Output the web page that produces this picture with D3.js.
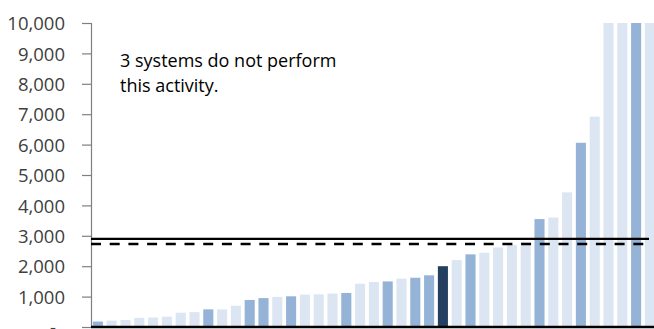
<!DOCTYPE html>
<html>
<head>
<meta charset="utf-8">
<script src="https://cdn.jsdelivr.net/npm/d3@7/dist/d3.min.js"></script>
<style>
  html, body { margin: 0; padding: 0; background: #fff; }
  svg { display: block; font-family: "Open Sans", "Noto Sans", sans-serif; }
</style>
</head>
<body>
<svg id="chart" width="654" height="329"></svg>
<script>
// Systems sorted ascending; group: 0 = other, 1 = highlighted peer, 2 = selected system
const systems = d3.range(1, 42).map(i => "S" + i);
const values = [180, 210, 230, 300, 310, 340, 470, 490, 580, 580,
                700, 890, 950, 990, 1010, 1065, 1075, 1100, 1120, 1425,
                1480, 1500, 1590, 1620, 1700, 2000, 2200, 2390, 2445, 2620,
                2700, 2790, 3550, 3600, 4430, 6060, 6920, 10000, 10000, 10000, 10000];
const groups = [1, 0, 0, 0, 0, 0, 0, 0, 1, 0,
                0, 1, 1, 0, 1, 0, 0, 0, 1, 0,
                0, 1, 0, 1, 1, 2, 0, 1, 0, 0,
                0, 0, 1, 0, 0, 1, 0, 0, 0, 1, 0];
const yTicks = [0, 1000, 2000, 3000, 4000, 5000, 6000, 7000, 8000, 9000, 10000];
const referenceLines = [
  { name: "Median", value: 2900, dashed: false },
  { name: "Average", value: 2730, dashed: true }
];
const noteLines = ["3 systems do not perform", "this activity."];

const groupColors = ["#dce6f2", "#95b3d7", "#243f60"];

const svg = d3.select("#chart");
const x0 = 91, x1 = 656.8, yTop = 23, yBottom = 327;

const x = d3.scaleBand()
  .domain(systems)
  .range([x0, x1])
  .paddingInner(0.27)
  .paddingOuter(0.135);

const y = d3.scaleLinear()
  .domain([0, 10000])
  .range([yBottom, yTop])
  .clamp(true);

// Bars
svg.append("g")
  .selectAll("rect")
  .data(systems)
  .join("rect")
  .attr("x", d => x(d))
  .attr("width", x.bandwidth())
  .attr("y", (d, i) => y(values[i]))
  .attr("height", (d, i) => yBottom - y(values[i]))
  .attr("fill", (d, i) => groupColors[groups[i]]);

// Y axis
const yAxis = d3.axisLeft(y)
  .tickValues(yTicks)
  .tickSize(9)
  .tickPadding(17)
  .tickFormat(d => d === 0 ? "-" : d3.format(",")(d));

const gy = svg.append("g")
  .attr("transform", `translate(${x0},0)`)
  .call(yAxis);
gy.select(".domain").attr("stroke", "#7f7f7f").attr("stroke-width", 1.2);
gy.selectAll(".tick line").attr("stroke", "#7f7f7f").attr("stroke-width", 1.2);
gy.selectAll(".tick text")
  .attr("fill", "#404040")
  .style("font-size", "18.5px")
  .style("font-family", "'Open Sans', sans-serif")
  .attr("dy", "0.36em");
gy.selectAll(".tick text").filter(d => d === 0).attr("dx", -9);

// Reference lines
referenceLines.forEach(r => {
  svg.append("line")
    .attr("x1", x0)
    .attr("x2", 649)
    .attr("y1", y(r.value))
    .attr("y2", y(r.value))
    .attr("stroke", "#000")
    .attr("stroke-width", 2.4)
    .attr("stroke-dasharray", r.dashed ? "10,8.7" : null);
});

// Category baseline
svg.append("line")
  .attr("x1", x0)
  .attr("x2", 654)
  .attr("y1", yBottom)
  .attr("y2", yBottom)
  .attr("stroke", "#000")
  .attr("stroke-width", 2.5);

// Note
svg.append("g")
  .selectAll("text")
  .data(noteLines)
  .join("text")
  .attr("x", 120)
  .attr("y", (d, i) => 67 + i * 25)
  .attr("fill", "#000")
  .style("font-size", "18px")
  .text(d => d);
</script>
</body>
</html>
